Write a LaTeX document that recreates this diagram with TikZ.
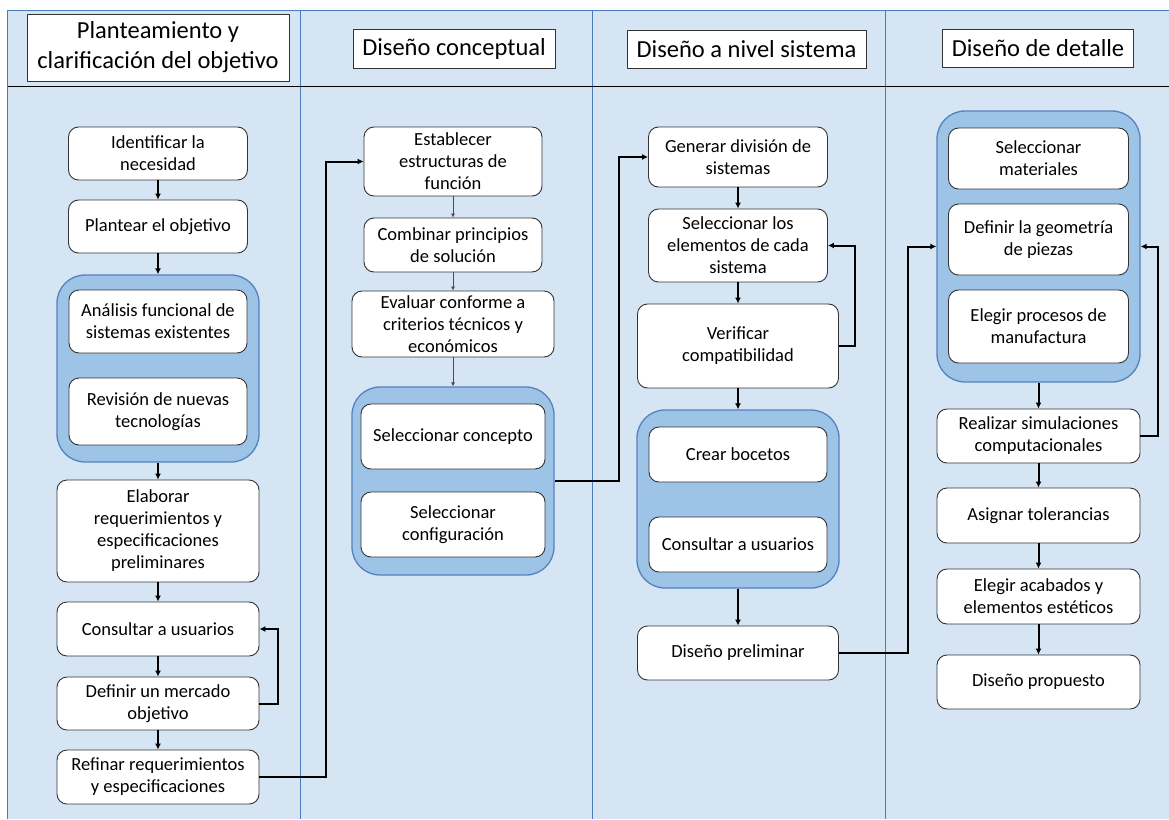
\documentclass[tikz,border=0pt]{standalone}
\usepackage{fontspec}
\setmainfont{Carlito}
\usetikzlibrary{arrows.meta}
\definecolor{fondo}{RGB}{214,229,244}
\definecolor{carril}{RGB}{74,126,187}
\definecolor{azulgrupo}{RGB}{157,195,230}
\definecolor{bordegrupo}{RGB}{84,130,190}

\begin{document}
\begin{tikzpicture}[x=1pt, y=-1pt]
			\tikzset{caja/.style={draw=black!80, fill=white, rounded corners=10pt, line width=0.9pt, align=center, inner sep=2pt, font=\fontsize{18.5}{22}\selectfont},
			grupo/.style={draw=bordegrupo, fill=azulgrupo, rounded corners=28pt, line width=1.3pt},
			titulo/.style={draw=black!80, fill=white, line width=0.9pt, align=center, inner sep=2pt, font=\fontsize{24.5}{30}\selectfont},
			fleche/.style={-{Latex[length=6pt, width=6pt]}, line width=2pt},
			flechefine/.style={-{Latex[length=4pt, width=4pt]}, line width=0.6pt, black!70}};

			\useasboundingbox (0,0) rectangle (1169,819);
			\fill[fondo] (7.7,10) rectangle (1169,819);
			\draw[carril, line width=1pt] (7.7,819) -- (7.7,10) -- (1169,10);
			\foreach \x in {300,592.4,885.5} \draw[carril, line width=1pt] (\x,10) -- (\x,819);
			\draw[line width=0.8pt] (7.7,86) -- (1169,86);

			\node[titulo, minimum width=262pt, minimum height=67pt] (t1) at (  158, 47.5) {Planteamiento y\\clarificación del objetivo};
			\node[titulo, minimum width=202pt, minimum height=39pt] (t2) at (  454, 48.5) {Diseño conceptual};
			\node[titulo, minimum width=239pt, minimum height=38pt] (t3) at (746.5,   49) {Diseño a nivel sistema};
			\node[titulo, minimum width=191pt, minimum height=38pt] (t4) at ( 1038,   48) {Diseño de detalle};

			\node[caja, minimum width=179pt, minimum height=53pt] (ident) at (158, 153.5) {Identificar la\\necesidad};
			\node[caja, minimum width=179pt, minimum height=53pt] (plant) at (158, 226.5) {Plantear el objetivo};
			\node[grupo, minimum width=202pt, minimum height=187pt] (g1) at (158, 368.5) {};
			\node[caja, minimum width=178pt, minimum height=63pt] (anal) at (158, 321.5) {Análisis funcional de\\sistemas existentes};
			\node[caja, minimum width=178pt, minimum height=67pt] (revi) at (158, 411.5) {Revisión de nuevas\\tecnologías};
			\node[caja, minimum width=202pt, minimum height=102pt] (elab) at (158, 531) {Elaborar\\requerimientos y\\especificaciones\\preliminares};
			\node[caja, minimum width=202pt, minimum height=54pt] (cons1) at (158, 629) {Consultar a usuarios};
			\node[caja, minimum width=202pt, minimum height=53pt] (merc) at (158, 703.5) {Definir un mercado\\objetivo};
			\node[caja, minimum width=202pt, minimum height=54pt] (refi) at (158, 777) {Refinar requerimientos\\y especificaciones};

			\node[caja, minimum width=178pt, minimum height=69pt] (estab) at (453, 161.5) {Establecer\\estructuras de\\función};
			\node[caja, minimum width=178pt, minimum height=54pt] (comb) at (453, 245) {Combinar principios\\de solución};
			\node[caja, minimum width=202pt, minimum height=66pt] (eval) at (453, 324) {Evaluar conforme a\\criterios técnicos y\\económicos};
			\node[grupo, minimum width=202pt, minimum height=188pt] (g2) at (453, 481) {};
			\node[caja, minimum width=184pt, minimum height=65pt] (selc) at (453, 436.5) {Seleccionar concepto};
			\node[caja, minimum width=184pt, minimum height=65pt] (selg) at (453, 524.5) {Seleccionar\\configuración};

			\node[caja, minimum width=179pt, minimum height=60pt] (gener) at (738, 157) {Generar división de\\sistemas};
			\node[caja, minimum width=179pt, minimum height=73pt] (sell) at (738, 245.5) {Seleccionar los\\elementos de cada\\sistema};
			\node[caja, minimum width=201pt, minimum height=84pt] (verif) at (738, 346) {Verificar\\compatibilidad};
			\node[grupo, minimum width=202pt, minimum height=178pt] (g3) at (738, 499) {};
			\node[caja, minimum width=178pt, minimum height=55pt] (crear) at (738, 454.5) {Crear bocetos};
			\node[caja, minimum width=178pt, minimum height=55pt] (cons3) at (738, 544.5) {Consultar a usuarios};
			\node[caja, minimum width=201pt, minimum height=54pt] (prel) at (738, 653) {Diseño preliminar};

			\node[grupo, minimum width=203pt, minimum height=271pt] (g4) at (1038.5, 246.5) {};
			\node[caja, minimum width=180pt, minimum height=61pt] (mat) at (1038.5, 158.5) {Seleccionar\\materiales};
			\node[caja, minimum width=180pt, minimum height=71pt] (geo) at (1038.5, 239.5) {Definir la geometría\\de piezas};
			\node[caja, minimum width=180pt, minimum height=73pt] (proc) at (1038.5, 326.5) {Elegir procesos de\\manufactura};
			\node[caja, minimum width=203pt, minimum height=54pt] (simu) at (1038.5, 436) {Realizar simulaciones\\computacionales};
			\node[caja, minimum width=203pt, minimum height=55pt] (tol) at (1038.5, 515.5) {Asignar tolerancias};
			\node[caja, minimum width=203pt, minimum height=55pt] (acab) at (1038.5, 596.5) {Elegir acabados y\\elementos estéticos};
			\node[caja, minimum width=203pt, minimum height=54pt] (prop) at (1038.5, 682) {Diseño propuesto};

			\draw[fleche] (ident) to (plant);
			\draw[fleche] (plant) to (g1);
			\draw[fleche] (g1) to (elab);
			\draw[fleche] (elab) to (cons1);
			\draw[fleche] (cons1) to (merc);
			\draw[fleche] (merc) to (refi);
			\draw[fleche] (merc.east) -- ++(19,0) |- (cons1.east);

			\draw[fleche] (refi.east) -- ++(66.5,0) |- (estab.west);
			\draw[flechefine] (estab) to (comb);
			\draw[flechefine] (comb) to (eval);
			\draw[flechefine] (eval) to (g2);

			\draw[fleche] (g2.east) -- ++(64.6,0) |- (gener.west);
			\draw[fleche] (gener) to (sell);
			\draw[fleche] (sell) to (verif);
			\draw[fleche] (verif) to (g3);
			\draw[fleche] (g3) to (prel);
			\draw[fleche] (verif.east) -- ++(16.5,0) |- (sell.east);

			\draw[fleche] (prel.east) -- ++(69.5,0) |- (g4.west);
			\draw[fleche] (g4) to (simu);
			\draw[fleche] (simu) to (tol);
			\draw[fleche] (tol) to (acab);
			\draw[fleche] (acab) to (prop);
			\draw[fleche] (simu.east) -- ++(17.7,0) |- (g4.east);

		\end{tikzpicture}
\end{document}
